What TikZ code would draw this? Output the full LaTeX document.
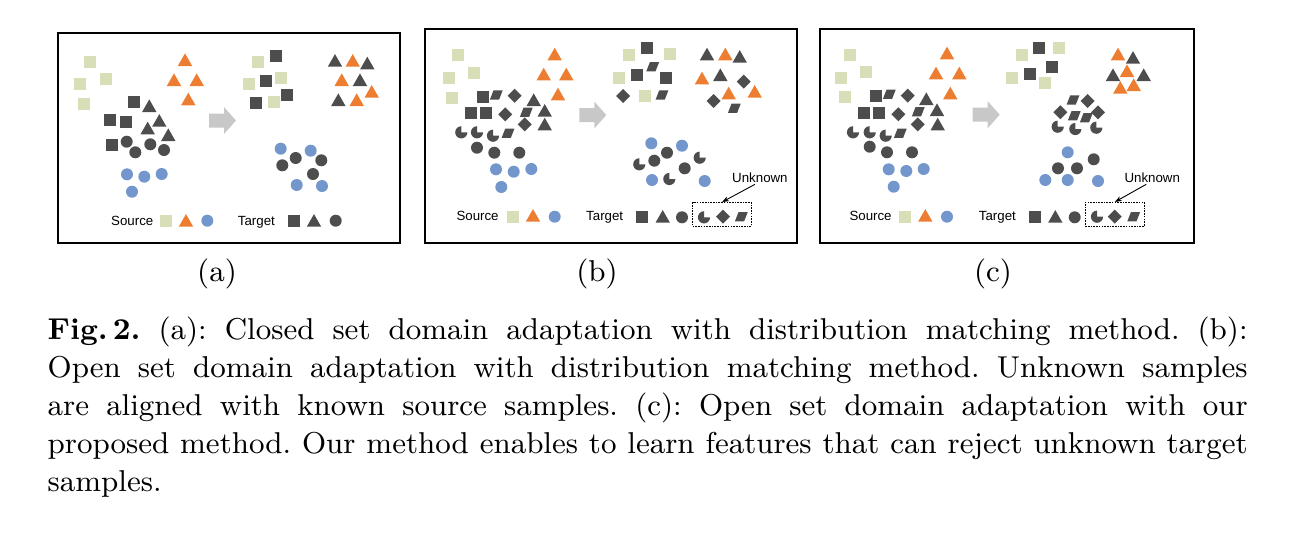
\documentclass[tikz,border=0pt]{standalone}
\usepackage{fontspec}
\newfontfamily\lgfont{Liberation Sans}
\usetikzlibrary{arrows.meta}
\definecolor{dk}{RGB}{77,77,77}
\definecolor{og}{RGB}{237,125,49}
\definecolor{bl}{RGB}{115,150,205}
\definecolor{gr}{RGB}{215,222,184}
\definecolor{ag}{RGB}{200,200,200}
\tikzset{
  sqr/.pic={\fill[#1] (-6.1,-6.1) rectangle (6.1,6.1);},
  tri/.pic={\fill[#1] (0,6.6) -- (7.2,-6) -- (-7.2,-6) -- cycle;},
  dot/.pic={\fill[#1] (0,0) circle[radius=6];},
  dia/.pic={\fill[#1] (0,7) -- (7,0) -- (0,-7) -- (-7,0) -- cycle;},
  par/.pic={\fill[#1] (-6.4,-4.6) -- (2.8,-4.6) -- (6.4,4.6) -- (-2.8,4.6) -- cycle;},
  pac/.pic={\fill[#1] (0,0) -- (0,6.1) arc[start angle=90,end angle=360,radius=6.1] -- cycle;},
  garrow/.pic={\fill[ag] (0,-7) -- (15,-7) -- (15,-13.5) -- (27,0) -- (15,13.5) -- (15,7) -- (0,7) -- cycle;},
  panel/.style={draw=black,line width=2.4pt},
  lg/.style={anchor=base west,inner sep=0pt,font=\lgfont\fontsize{13.3}{15}\selectfont},
  ubox/.style={draw=black,line width=0.9pt,dash pattern=on 1.6pt off 1.1pt,minimum width=#1,minimum height=23.5pt,inner sep=0pt},
  uarrow/.style={line width=0.9pt,-{Stealth[length=7pt,width=5pt]}},
  capline/.style={anchor=base west,inner sep=0pt,scale=3.35,transform shape,font=\fontsize{9}{11}\selectfont\frenchspacing},
  sublab/.style={anchor=base,inner sep=0pt,scale=3.35,transform shape,font=\fontsize{9}{11}\selectfont},
}
\newcommand\putall[3]{\foreach \x/\y in {#3}{\pic at (\x,-\y) {#1=#2};}}
\begin{document}
\begin{tikzpicture}[x=1pt,y=1pt]
\useasboundingbox (0,0) rectangle (1304,-558);
% ---------------- panel (a)
\draw[panel] (58,-33) rectangle (400,-243);
\putall{sqr}{gr}{90/61.7, 106/79, 80/84.3, 84/103.7}
\putall{tri}{og}{185/60, 174/80, 196.7/80, 188.3/99.3}
\putall{sqr}{dk}{134/101.7, 110/120, 126/121.7, 112.3/145}
\putall{tri}{dk}{149.3/106, 159.3/120.7, 147.7/128.3, 168.3/135}
\putall{dot}{dk}{126.7/141.7, 135.3/152.3, 150.3/144.3, 164/150}
\putall{dot}{bl}{127/174.3, 144.3/176.7, 161.7/174, 132/191.7}
\pic at (209,-120.5) {garrow};
\putall{sqr}{gr}{257.7/61.7, 281/77.7, 249/84.3, 274/102.3}
\putall{sqr}{dk}{275.7/56, 265.7/80.7, 286.7/95, 255.7/102.7}
\putall{tri}{dk}{335/60.7, 367.3/63.3, 360/80, 338.3/100}
\putall{tri}{og}{352.7/60.7, 341.7/80, 371.7/91.7, 356.7/100}
\putall{dot}{bl}{280.7/148.7, 310.7/150.7, 296.7/185, 322/186}
\putall{dot}{dk}{295.7/158, 282.3/165.3, 321.3/160.3, 313/174}
\node[lg] (srca) at (111,-225.4) {Source};
\putall{sqr}{gr}{166/220.7}
\putall{tri}{og}{186/220.7}
\putall{dot}{bl}{207.3/220.7}
\node[lg] (tgta) at (237.7,-225.4) {Target};
\putall{sqr}{dk}{294/220.7}
\putall{tri}{dk}{314/220.7}
\putall{dot}{dk}{335.7/220.7}
% ---------------- panel (b)
\draw[panel] (425,-29) rectangle (797,-243);
\putall{sqr}{gr}{458/55, 473.7/72.7, 448.7/77.7, 452/97.7}
\putall{tri}{og}{554.7/54.3, 543.7/74.3, 566.3/74.3, 558/94.3}
\putall{sqr}{dk}{483/96.7, 471/113.3, 486.3/113.3}
\putall{par}{dk}{496.3/95, 526.3/112.3, 508/133.3}
\putall{dia}{dk}{514.7/95.7, 505.3/114.3, 524.7/124.3}
\putall{tri}{dk}{533.7/100, 544.7/110.7, 544.7/124.3}
\putall{pac}{dk}{461.3/132.3, 477/132.3, 493/135.7}
\putall{dot}{dk}{477/147.7, 494.3/152.7, 519.3/152.7}
\putall{dot}{bl}{496/169.3, 513.7/171.7, 531.3/169, 501.3/187}
\pic at (579.3,-115) {garrow};
\putall{sqr}{gr}{628.7/55, 669.7/54.3, 618.7/78.3, 644.7/96}
\putall{sqr}{dk}{647/48.3, 637/75, 666/78.3}
\putall{par}{dk}{652.7/66.7, 662/95}
\putall{dia}{dk}{623/96}
\putall{tri}{dk}{707/54.3, 739.7/56.7, 720.3/75}
\putall{tri}{og}{725.3/54.3, 702/78.3, 728.7/93.3, 754.7/91.7}
\putall{dia}{dk}{743.7/81.7, 713.7/101}
\putall{par}{dk}{734.3/108.3}
\putall{dot}{bl}{651.3/143.3, 682/145.7, 652/180, 704.7/181}
\putall{dot}{dk}{667/152.7, 654.3/160.7, 684.7/168.3}
\putall{pac}{dk}{639.3/164.3, 699.7/157.7, 669.3/179}
\node[lg] (srcb) at (456.3,-220.4) {Source};
\putall{sqr}{gr}{513/216.7}
\putall{tri}{og}{533/215.7}
\putall{dot}{bl}{554.7/216.7}
\node[lg] (tgtb) at (586,-220.4) {Target};
\putall{sqr}{dk}{642/217.3}
\putall{tri}{dk}{662.7/216.7}
\putall{dot}{dk}{682/217.3}
\node[ubox=58.6pt] (ubb) at (722,-214.3) {};
\putall{pac}{dk}{704/217.3}
\putall{dia}{dk}{723/216.7}
\putall{par}{dk}{741.3/216.7}
\node[lg] (unkb) at (732,-182) {Unknown};
\draw[uarrow] ([xshift=-5pt,yshift=-2pt]unkb.south) -- (ubb.north);
% ---------------- panel (c)
\draw[panel] (820,-29) rectangle (1194,-243);
\putall{sqr}{gr}{850.3/55, 866.3/71.7, 841/77.7, 844.7/96.7}
\putall{tri}{og}{947/53.3, 936/73.3, 959.3/73.3, 950.3/93.3}
\putall{sqr}{dk}{876/95.7, 863.7/113.3, 879/113.3}
\putall{par}{dk}{889.3/94.3, 918.3/111.7, 900.3/133.3}
\putall{dia}{dk}{907.7/95.7, 898.3/114.3, 917.7/124.3}
\putall{tri}{dk}{926.3/99, 937/110, 937.7/124.3}
\putall{pac}{dk}{853/132.3, 869.7/132.3, 885.7/135.7}
\putall{dot}{dk}{869.7/146.7, 887/152.3, 912/152.3}
\putall{dot}{bl}{888.7/169.3, 906.3/171, 923.7/169, 893.7/186.7}
\pic at (972.7,-114.7) {garrow};
\putall{sqr}{gr}{1022/55, 1058.7/47.7, 1012/77.7, 1044.7/82.7}
\putall{sqr}{dk}{1039/48.3, 1051.7/66.7, 1029.7/73.7}
\putall{tri}{dk}{1133/57.7, 1113/75, 1143.7/75}
\putall{tri}{og}{1118/54.3, 1127/71, 1120.3/87.7, 1133.7/85}
\putall{par}{dk}{1073/100, 1074.3/115.7, 1086.3/117.7}
\putall{dia}{dk}{1087.7/101, 1060.3/112.3, 1098/112.3}
\putall{pac}{dk}{1057.7/126.7, 1075.3/129, 1096.3/127.7}
\putall{dot}{bl}{1067.7/152.3, 1045.3/180, 1067.7/180, 1098/181}
\putall{dot}{dk}{1093.7/159.3, 1058/168.3, 1077/168.3}
\node[lg] (srcc) at (849.3,-220.4) {Source};
\putall{sqr}{gr}{904.7/216.7}
\putall{tri}{og}{925.3/215.7}
\putall{dot}{bl}{947/216.7}
\node[lg] (tgtc) at (978.7,-220.4) {Target};
\putall{sqr}{dk}{1034.7/216.7}
\putall{tri}{dk}{1055.3/216.7}
\putall{dot}{dk}{1074.7/217.3}
\node[ubox=59pt] (ubc) at (1114.8,-214.2) {};
\putall{pac}{dk}{1097/216.7}
\putall{dia}{dk}{1114.7/216.7}
\putall{par}{dk}{1133.7/216.7}
\node[lg] (unkc) at (1124.3,-182) {Unknown};
\draw[uarrow] ([xshift=-6pt,yshift=-2pt]unkc.south) -- (ubc.north);
% ---------------- sub labels
\node[sublab] (la) at (217,-281) {(a)};
\node[sublab] (lb) at (597,-281) {(b)};
\node[sublab] (lc) at (993,-281) {(c)};
% ---------------- caption
\node[capline] (c1) at (47,-339.5) {\makebox[358.2pt][s]{\textbf{Fig.\,2.} (a): Closed set domain adaptation with distribution matching method. (b):}};
\node[capline] (c2) at (47,-377.6) {\makebox[358.2pt][s]{Open set domain adaptation with distribution matching method. Unknown samples}};
\node[capline] (c3) at (47,-415.7) {\makebox[358.2pt][s]{are aligned with known source samples. (c): Open set domain adaptation with our}};
\node[capline] (c4) at (47,-453.8) {\makebox[358.2pt][s]{proposed method. Our method enables to learn features that can reject unknown target}};
\node[capline] (c5) at (47,-491.9) {samples.};
\end{tikzpicture}
\end{document}
